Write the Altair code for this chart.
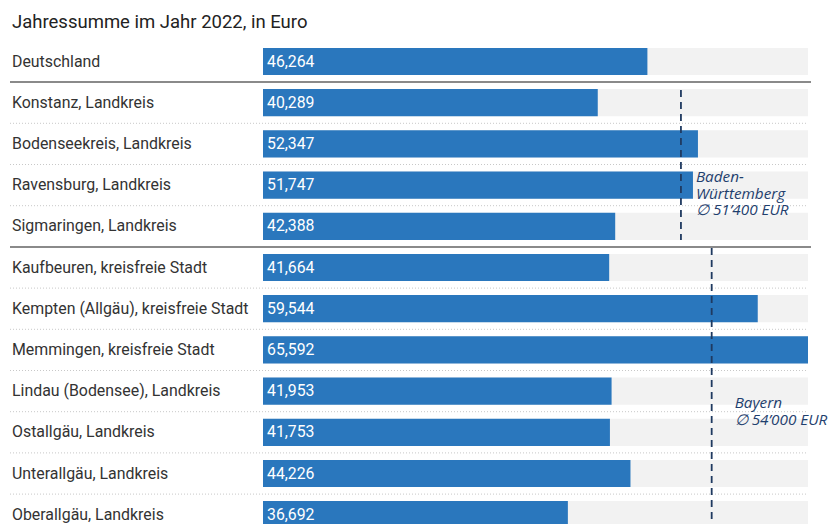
import altair as alt
import pandas as pd

title_text = "Jahressumme im Jahr 2022, in Euro"
categories = [
    "Deutschland",
    "Konstanz, Landkreis",
    "Bodenseekreis, Landkreis",
    "Ravensburg, Landkreis",
    "Sigmaringen, Landkreis",
    "Kaufbeuren, kreisfreie Stadt",
    "Kempten (Allgäu), kreisfreie Stadt",
    "Memmingen, kreisfreie Stadt",
    "Lindau (Bodensee), Landkreis",
    "Ostallgäu, Landkreis",
    "Unterallgäu, Landkreis",
    "Oberallgäu, Landkreis",
]
values = [46264, 40289, 52347, 51747, 42388, 41664, 59544, 65592, 41953, 41753, 44226, 36692]
# group separators: solid after these row indices, dotted elsewhere
solid_after = [0, 4]
ref_labels = ["Baden-\nWürttemberg\n∅ 51’400 EUR", "Bayern\n∅ 54’000 EUR"]
ref_values = [50300, 54000]

W, H = 829, 524
bar_left, bar_right = 263, 808
row0, pitch = 61.5, 41.2
vmax = max(values)
k = (bar_right - bar_left) / vmax
x_dom = [-bar_left / k, (W - bar_left) / k]
y_dom = [-row0 / pitch, (H - row0) / pitch]

df = pd.DataFrame({"cat": categories, "val": values, "i": list(range(len(categories)))})
df["y0"] = df["i"] - 0.33
df["y1"] = df["i"] + 0.33
df["vmax"] = vmax
df["zero"] = 0

xs = alt.Scale(domain=x_dom, nice=False, zero=False)
ys = alt.Scale(domain=y_dom, nice=False, zero=False, reverse=True)
X = lambda f: alt.X(f, type="quantitative", scale=xs, axis=None)
Y = lambda f: alt.Y(f, type="quantitative", scale=ys, axis=None)

base = alt.Chart(df)

track = base.mark_rect(color="#f2f2f2").encode(
    x=X("zero"), x2="vmax", y=Y("y0"), y2="y1")
bars = base.mark_rect(color="#2a77bd").encode(
    x=X("zero"), x2="val", y=Y("y0"), y2="y1")
vlabels = base.mark_text(align="left", baseline="middle", dx=4, color="white",
                         font="Roboto", fontSize=15.8).encode(
    x=X("zero"), y=Y("i"), text=alt.Text("val:Q", format=",d"))
clabels = base.mark_text(align="left", baseline="middle", color="#333333",
                         font="Roboto", fontSize=15.9).encode(
    x=alt.value(12), y=Y("i"), text="cat:N")

n = len(categories)
sep = pd.DataFrame({"s": [i + 0.5 for i in range(n - 1)],
                    "solid": [i in solid_after for i in range(n - 1)]})
dotted = alt.Chart(sep[~sep["solid"]]).mark_rule(
    color="#c8c8c8", strokeWidth=1, strokeDash=[1, 2]).encode(
    x=alt.value(10), x2=alt.value(808), y=Y("s"))
solid = alt.Chart(sep[sep["solid"]]).mark_rule(
    color="#8a8a8a", strokeWidth=2).encode(
    x=alt.value(10), x2=alt.value(811), y=Y("s"))

ref = pd.DataFrame({"v": ref_values, "lab": ref_labels,
                    "ya": [90, 248], "yb": [240, 530],
                    "ty": [177, 403]})
reflines = alt.Chart(ref).mark_rule(color="#1f3a60", strokeWidth=1.8,
                                    strokeDash=[7, 5]).encode(
    x=X("v"), y=alt.Y("ya:Q", scale=None, axis=None), y2="yb:Q")
reftext_bw = alt.Chart(ref.iloc[[0]]).mark_text(
    align="left", baseline="middle", dx=15, font="Open Sans", fontStyle="italic",
    fontSize=15.3, color="#1f3f6e", lineBreak="\n", lineHeight=16.5).encode(
    x=X("v"), y=alt.Y("ty:Q", scale=None, axis=None), text="lab:N")
reftext_by = alt.Chart(ref.iloc[[1]]).mark_text(
    align="left", baseline="middle", dx=23, font="Open Sans", fontStyle="italic",
    fontSize=15.3, color="#1f3f6e", lineBreak="\n", lineHeight=16.5).encode(
    x=X("v"), y=alt.Y("ty:Q", scale=None, axis=None), text="lab:N")

title = alt.Chart(pd.DataFrame({"t": [title_text]})).mark_text(
    align="left", baseline="middle", font="Roboto", fontSize=18.5, color="#222222").encode(
    x=alt.value(12), y=alt.value(22), text="t:N")

chart = alt.layer(track, bars, vlabels, clabels, dotted, solid, reflines,
                  reftext_bw, reftext_by, title).properties(
    width=W, height=H, padding=0, autosize=alt.AutoSizeParams(type="none"),
    background="white"
).configure_view(stroke=None)

chart.save("out.html", embed_options={"renderer": "svg", "actions": False})
